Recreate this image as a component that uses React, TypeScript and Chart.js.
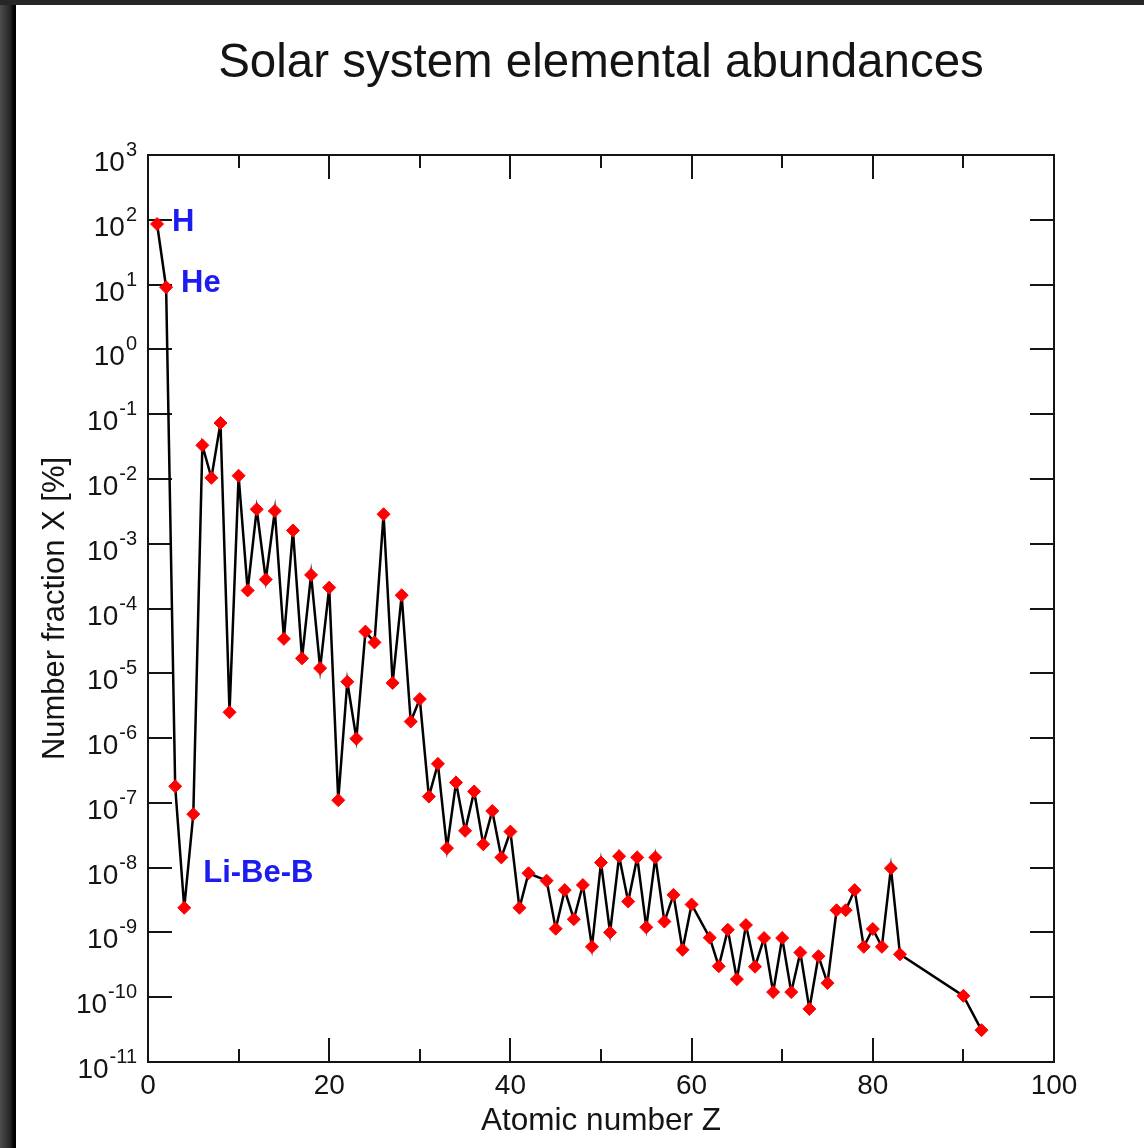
import React, { useEffect, useRef } from 'react';
import { Chart, registerables } from 'chart.js';

Chart.register(...registerables);

// Atomic numbers of the plotted elements (Tc, Pm, Po–Ac and Pa have no entry)
const atomicNumbers = [
  1, 2, 3, 4, 5, 6, 7, 8, 9, 10,
  11, 12, 13, 14, 15, 16, 17, 18, 19, 20,
  21, 22, 23, 24, 25, 26, 27, 28, 29, 30,
  31, 32, 33, 34, 35, 36, 37, 38, 39, 40,
  41, 42, 44, 45, 46, 47, 48, 49, 50,
  51, 52, 53, 54, 55, 56, 57, 58, 59, 60,
  62, 63, 64, 65, 66, 67, 68, 69, 70,
  71, 72, 73, 74, 75, 76, 77, 78, 79, 80,
  81, 82, 83, 90, 92,
];

// Number fraction X in percent, one per atomic number above
const abundances = [
  86, 9.1, 1.8e-7, 2.4e-9, 6.7e-8, 0.033, 0.0104, 0.073, 2.5e-6, 0.0112,
  1.9e-4, 3.4e-3, 2.8e-4, 3.2e-3, 3.4e-5, 1.6e-3, 1.7e-5, 3.3e-4, 1.2e-5, 2.1e-4,
  1.1e-7, 7.4e-6, 9.8e-7, 4.4e-5, 3.0e-5, 2.85e-3, 7.1e-6, 1.6e-4, 1.8e-6, 4.0e-6,
  1.25e-7, 4.0e-7, 2.0e-8, 2.06e-7, 3.7e-8, 1.5e-7, 2.3e-8, 7.5e-8, 1.44e-8, 3.6e-8,
  2.4e-9, 8.2e-9, 6.3e-9, 1.14e-9, 4.5e-9, 1.6e-9, 5.4e-9, 6.0e-10, 1.2e-8,
  1.0e-9, 1.5e-8, 3.0e-9, 1.44e-8, 1.2e-9, 1.44e-8, 1.47e-9, 3.8e-9, 5.4e-10, 2.7e-9,
  8.3e-10, 3.0e-10, 1.1e-9, 1.9e-10, 1.3e-9, 2.96e-10, 8.2e-10, 1.2e-10, 8.2e-10,
  1.2e-10, 4.9e-10, 6.6e-11, 4.3e-10, 1.65e-10, 2.2e-9, 2.2e-9, 4.5e-9, 6.0e-10, 1.13e-9,
  6.0e-10, 9.8e-9, 4.6e-10, 1.05e-10, 3.1e-11,
];

// Decade exponents shown on the logarithmic axis
const yExponents = [3, 2, 1, 0, -1, -2, -3, -4, -5, -6, -7, -8, -9, -10, -11];

// Tick positions on the Z axis (labelled every 20)
const xTickValues = [0, 10, 20, 30, 40, 50, 60, 70, 80, 90, 100];

// Element group annotations and the element each is placed beside
const groupLabels = ['H', 'He', 'Li-Be-B'];
const groupAnchorZ = [1, 2, 4];

const FONT = '"Liberation Sans", Arial, sans-serif';
const INK = '#141414';

const framePlugin = {
  id: 'frameAndLabels',
  beforeDatasetsDraw(chart: any) {
    const { ctx, chartArea: a, scales } = chart;
    const x = scales.x;
    const y = scales.y;
    ctx.save();
    ctx.strokeStyle = INK;
    ctx.lineWidth = 2;
    ctx.strokeRect(a.left, a.top, a.right - a.left, a.bottom - a.top);
    ctx.beginPath();
    for (const t of y.ticks) {
      const py = Math.round(y.getPixelForValue(t.value));
      ctx.moveTo(a.left, py);
      ctx.lineTo(a.left + 24, py);
      ctx.moveTo(a.right, py);
      ctx.lineTo(a.right - 24, py);
    }
    for (const t of x.ticks) {
      const px = Math.round(x.getPixelForValue(t.value));
      const len = t.value % 20 === 0 ? 24 : 13;
      ctx.moveTo(px, a.top);
      ctx.lineTo(px, a.top + len);
      ctx.moveTo(px, a.bottom);
      ctx.lineTo(px, a.bottom - len);
    }
    ctx.stroke();
    ctx.restore();
  },
  afterDraw(chart: any) {
    const { ctx, scales } = chart;
    const x = scales.x;
    const y = scales.y;
    ctx.save();
    // power-of-ten labels: "10" plus a raised exponent
    ctx.fillStyle = INK;
    ctx.textBaseline = 'alphabetic';
    ctx.textAlign = 'right';
    const right = 121;
    for (const e of yExponents) {
      const py = y.getPixelForValue(Math.pow(10, e));
      const exp = e < 0 ? '-' + String(-e) : String(e);
      ctx.font = `20px ${FONT}`;
      const ew = ctx.measureText(exp).width;
      ctx.fillText(exp, right, py + 1);
      ctx.font = `28px ${FONT}`;
      ctx.fillText('10', right - ew - 1, py + 16);
    }
    // element group annotations
    const offsets = [
      [15, -2],
      [15, -4],
      [19, -34],
    ];
    ctx.fillStyle = '#1c1cf0';
    ctx.textAlign = 'left';
    ctx.textBaseline = 'middle';
    ctx.font = `bold 31px ${FONT}`;
    groupLabels.forEach((label, i) => {
      const idx = atomicNumbers.indexOf(groupAnchorZ[i]);
      const px = x.getPixelForValue(atomicNumbers[idx]);
      const py = y.getPixelForValue(abundances[idx]);
      ctx.fillText(label, px + offsets[i][0], py + offsets[i][1]);
    });
    ctx.restore();
  },
};

export default function App() {
  const canvasRef = useRef<HTMLCanvasElement | null>(null);

  useEffect(() => {
    const canvas = canvasRef.current;
    if (!canvas) return;
    const chart = new Chart(canvas, {
      type: 'line',
      data: {
        datasets: [
          {
            data: atomicNumbers.map((z, i) => ({ x: z, y: abundances[i] })),
            borderColor: '#000',
            borderWidth: 2.5,
            tension: 0,
            fill: false,
            pointStyle: 'rectRot',
            pointRadius: 6.5,
            pointBackgroundColor: '#ff0000',
            pointBorderColor: '#ff0000',
            pointBorderWidth: 1,
          },
        ],
      },
      options: {
        responsive: false,
        animation: false,
        devicePixelRatio: 1,
        layout: { padding: { left: 0, right: 90, top: 0, bottom: 0 } },
        plugins: {
          legend: { display: false },
          tooltip: { enabled: false },
          title: {
            display: true,
            fullSize: false,
            text: 'Solar system elemental abundances',
            color: INK,
            font: { family: FONT, size: 47.5, weight: 'normal', lineHeight: 1.2 },
            padding: { top: 30, bottom: 63 },
          },
        },
        scales: {
          x: {
            type: 'linear',
            min: 0,
            max: 100,
            afterBuildTicks: (s: any) => {
              s.ticks = xTickValues.map((v) => ({ value: v }));
            },
            afterFit: (s: any) => {
              s.height = 86;
            },
            ticks: {
              autoSkip: false,
              maxRotation: 0,
              padding: 7,
              color: INK,
              font: { family: FONT, size: 28 },
              callback: (v: any) => (Number(v) % 20 === 0 ? String(v) : ''),
            },
            grid: { display: false, drawTicks: false },
            border: { display: false },
            title: {
              display: true,
              text: 'Atomic number Z',
              color: INK,
              font: { family: FONT, size: 31.5, lineHeight: 1.2 },
              padding: { top: 0, bottom: 8 },
            },
          },
          y: {
            type: 'logarithmic',
            min: 1e-11,
            max: 1e3,
            afterBuildTicks: (s: any) => {
              s.ticks = yExponents.map((e) => ({ value: Math.pow(10, e), major: true }));
            },
            afterFit: (s: any) => {
              s.width = 132;
            },
            ticks: { display: false, autoSkip: false },
            grid: { display: false, drawTicks: false },
            border: { display: false },
            title: {
              display: true,
              text: 'Number fraction X [%]',
              color: INK,
              font: { family: FONT, size: 31, lineHeight: 1.2 },
              padding: { top: 21, bottom: 0 },
            },
          },
        },
      },
      plugins: [framePlugin],
    } as any);
    return () => chart.destroy();
  }, []);

  return (
    <div
      style={{
        position: 'fixed',
        left: 0,
        top: 0,
        width: 1144,
        height: 1148,
        background: 'linear-gradient(to right, #4e4e4e 0px, #262626 10px, #000 14px, #000 16px)',
        overflow: 'hidden',
      }}
    >
      <div style={{ position: 'absolute', left: 0, top: 0, width: 1144, height: 5, background: '#262626' }} />
      <canvas
        ref={canvasRef}
        width={1128}
        height={1143}
        style={{ position: 'absolute', left: 16, top: 5, width: 1128, height: 1143, background: '#fff' }}
      />
    </div>
  );
}
